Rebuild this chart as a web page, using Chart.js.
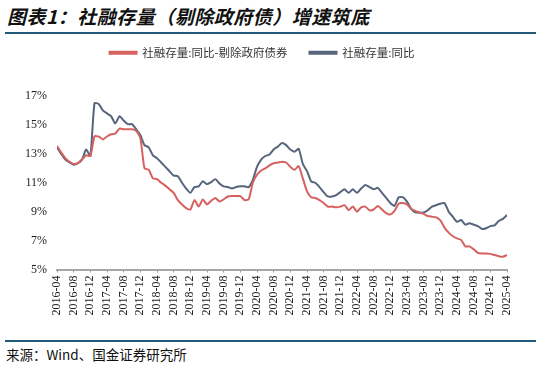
<!DOCTYPE html>
<html>
<head>
<meta charset="utf-8">
<script src="https://cdn.jsdelivr.net/npm/chart.js@4"></script>
<style>
  html, body { margin: 0; padding: 0; background: #fff; }
  body { width: 541px; height: 366px; position: relative; overflow: hidden; }
  #title {
    position: absolute; left: 7px; top: 4px;
    font-family: "Noto Sans CJK SC", sans-serif; font-size: 19px; font-weight: bold; font-style: italic;
    color: #111; line-height: 24px; letter-spacing: 0.5px;
  }
  .rule { position: absolute; left: 5px; width: 531px; height: 2px; background: #1f5a78; }
  #source {
    position: absolute; left: 6px; top: 345px;
    font-family: "Noto Sans CJK SC", sans-serif; font-size: 13.5px; color: #111; line-height: 18px;
  }
  #wrap { position: absolute; left: 0; top: 25px; width: 541px; height: 310px; }
</style>
</head>
<body>
<div id="title">图表1：社融存量（剔除政府债）增速筑底</div>
<div class="rule" style="top:32px"></div>
<div id="wrap"><canvas id="chart"></canvas></div>
<div class="rule" style="top:340px"></div>
<div id="source">来源：Wind、国金证券研究所</div>

<script>
// 月份：2016-04 ~ 2025-04
const months = [];
for (let y = 2016, m = 4; y < 2025 || (y === 2025 && m <= 4); m++) {
  if (m > 12) { m = 1; y++; }
  if (y === 2025 && m > 4) break;
  months.push(y + '-' + String(m).padStart(2, '0'));
}

const yTicks = [5, 7, 9, 11, 13, 15, 17];

// 社融存量:同比-剔除政府债券 (%)
const exGovBond = [
  13.55, 13.1, 12.7, 12.45, 12.3, 12.35, 12.6, 12.9, 12.85, 14.2,
  14.2, 14.0, 14.2, 14.35, 14.4, 14.75, 14.7, 14.7, 14.7, 14.6,
  14.1, 12.0, 11.9, 11.3, 11.25, 11.0, 10.8, 10.55, 10.3, 9.8,
  9.5, 9.25, 9.15, 9.8, 9.35, 9.85, 9.5, 9.75, 9.95, 9.7,
  9.85, 10.05, 10.08, 10.08, 10.08, 9.8, 9.85, 11.0, 11.55, 11.85,
  12.0, 12.2, 12.35, 12.4, 12.45, 12.4, 12.1, 11.9, 12.15, 11.3,
  10.4, 10.0, 9.95, 9.8, 9.6, 9.35, 9.35, 9.3, 9.35, 9.45,
  9.1, 9.35, 9.0, 9.3, 9.35, 9.1, 9.15, 9.4, 9.15, 8.9,
  8.8, 9.05, 9.55, 9.6, 9.5, 9.2, 9.05, 8.95, 8.85, 8.7,
  8.65, 8.6, 8.4, 7.9, 7.55, 7.3, 7.15, 7.05, 6.6, 6.6,
  6.4, 6.15, 6.1, 6.1, 6.08, 6.0, 5.92, 5.88, 6.0
];

// 社融存量:同比 (%)
const total = [
  13.45, 13.0, 12.6, 12.4, 12.25, 12.35, 12.6, 13.3, 12.85, 16.5,
  16.45, 16.0, 15.8, 15.6, 15.1, 15.6, 15.3, 15.05, 15.05, 14.7,
  14.3, 13.6, 13.45, 12.9, 12.7, 12.4, 12.1, 11.8, 11.5, 11.45,
  11.0, 10.6, 10.3, 10.7, 10.75, 11.1, 10.9, 11.05, 11.25, 10.95,
  10.75, 10.7, 10.6, 10.7, 10.75, 10.75, 10.7, 11.2, 12.1, 12.6,
  12.85, 12.95, 13.3, 13.5, 13.75, 13.6, 13.3, 13.15, 13.35, 12.3,
  11.8, 11.1, 11.0, 10.7, 10.35, 10.05, 10.05, 10.15, 10.35, 10.55,
  10.3, 10.55, 10.3, 10.6, 10.85, 10.7, 10.55, 10.65, 10.3, 9.95,
  9.6, 9.4, 10.0, 10.0, 9.7, 9.2, 8.95, 8.93, 8.95, 9.1,
  9.35, 9.45, 9.55, 9.6, 9.0, 8.65, 8.3, 8.42, 8.1, 8.2,
  8.1, 8.0, 7.8, 7.85, 8.0, 8.05, 8.35, 8.5, 8.77
];

const serif = "'Liberation Serif', 'Times New Roman', serif";
const cjk = "'Noto Sans CJK SC', sans-serif";

// 图例与绘图区之间留空
const legendGap = {
  id: 'legendGap',
  beforeInit(chart) {
    const fit = chart.legend.fit;
    chart.legend.fit = function () {
      fit.bind(chart.legend)();
      this.height = 71;
    };
  }
};

new Chart(document.getElementById('chart'), {
  type: 'line',
  data: {
    datasets: [
      {
        label: '社融存量:同比-剔除政府债券',
        data: exGovBond.map((v, i) => ({ x: i, y: v })),
        borderColor: '#d6625f',
        backgroundColor: '#d6625f',
        borderWidth: 2,
        pointRadius: 0,
        tension: 0.2
      },
      {
        label: '社融存量:同比',
        data: total.map((v, i) => ({ x: i, y: v })),
        borderColor: '#56647c',
        backgroundColor: '#56647c',
        borderWidth: 2,
        pointRadius: 0,
        tension: 0.2
      }
    ]
  },
  options: {
    responsive: true,
    maintainAspectRatio: false,
    animation: false,
    layout: { padding: { left: 17, right: 34, top: 0, bottom: 5.5 } },
    plugins: {
      legend: {
        position: 'top',
        labels: {
          boxWidth: 27,
          boxHeight: 2,
          padding: 22,
          color: '#333',
          font: { family: cjk, size: 11.5 }
        }
      },
      tooltip: { enabled: false }
    },
    scales: {
      x: {
        type: 'linear',
        min: 0,
        max: months.length - 1,
        afterFit(scale) { scale.height = 60; },
        grid: { display: true, drawOnChartArea: false, drawTicks: true, tickLength: 3, color: '#999' },
        border: { display: true, color: '#a6a6a6', width: 2 },
        ticks: {
          stepSize: 4,
          autoSkip: false,
          maxRotation: 90,
          minRotation: 90,
          padding: 3,
          color: '#222',
          font: { family: serif, size: 12 },
          callback: (v) => months[v]
        }
      },
      y: {
        min: 5,
        max: 17,
        afterFit(scale) { scale.width = 40; },
        afterBuildTicks(scale) { scale.ticks = yTicks.map(v => ({ value: v })); },
        grid: { display: false, drawTicks: false },
        border: { display: false },
        ticks: {
          padding: 10,
          color: '#222',
          font: { family: serif, size: 12 },
          callback: (v) => v + '%'
        }
      }
    }
  },
  plugins: [legendGap]
});
</script>
</body>
</html>
